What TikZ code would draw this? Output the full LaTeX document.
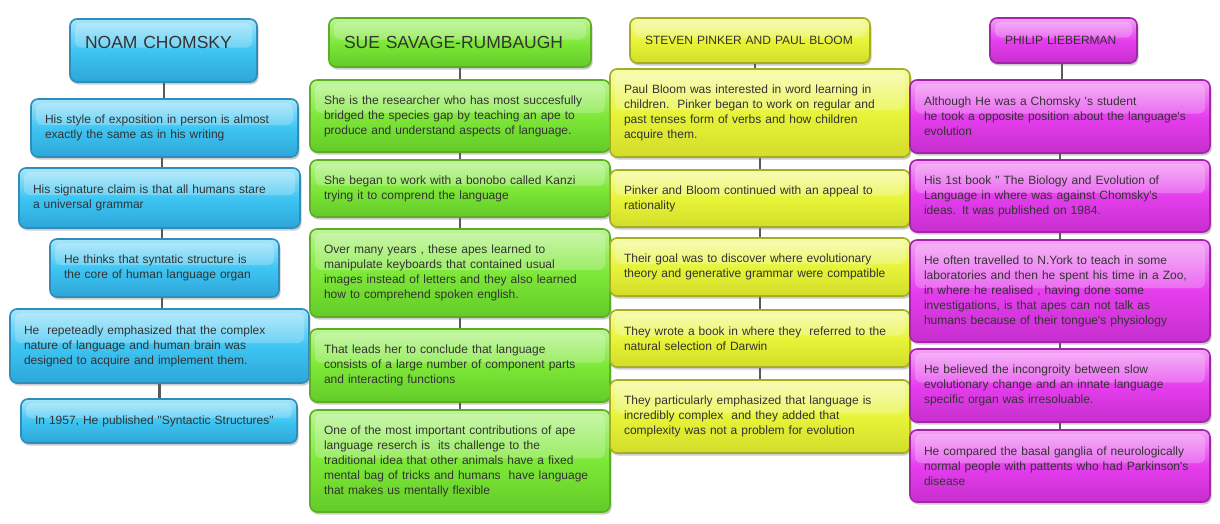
\documentclass[tikz,border=0pt]{standalone}
\usepackage{fontspec}
\setmainfont{Liberation Sans}[Ligatures=TeXOff]
\usetikzlibrary{shadows,calc}
\definecolor{txt}{HTML}{333333}
\definecolor{lnk}{HTML}{5A5A5A}
\definecolor{bluedraw}{HTML}{2E8DBB}
\definecolor{bluetop}{HTML}{A8E6FA}
\definecolor{bluemid}{HTML}{3EC5F3}
\definecolor{bluebot}{HTML}{2DA6D8}
\definecolor{greendraw}{HTML}{5DAE26}
\definecolor{greentop}{HTML}{BDF597}
\definecolor{greenmid}{HTML}{7EE838}
\definecolor{greenbot}{HTML}{63CB28}
\definecolor{yeldraw}{HTML}{A5AE22}
\definecolor{yeltop}{HTML}{F6FBA8}
\definecolor{yelmid}{HTML}{E8F438}
\definecolor{yelbot}{HTML}{D2DC2A}
\definecolor{magdraw}{HTML}{A326AA}
\definecolor{magtop}{HTML}{F3A2F6}
\definecolor{magmid}{HTML}{E63EEE}
\definecolor{magbot}{HTML}{C62ECE}
\tikzset{
  card/.style={rectangle, rounded corners=7pt, line width=1.6pt,
    inner xsep=14pt, inner ysep=0pt, align=left, text=txt,
    font=\fontsize{12}{15}\selectfont,
    drop shadow={shadow xshift=1.5pt, shadow yshift=-2.5pt, opacity=0.2, fill=black},
    path picture={\fill[white, opacity=0.22, rounded corners=6pt]
      ([shift={(5pt,-4pt)}]path picture bounding box.north west) rectangle
      ([shift={(-5pt,3pt)}]path picture bounding box.east);}},
  bluecard/.style={card, draw=bluedraw, top color=bluetop, bottom color=bluebot, middle color=bluemid},
  greencard/.style={card, draw=greendraw, top color=greentop, bottom color=greenbot, middle color=greenmid},
  yelcard/.style={card, draw=yeldraw, top color=yeltop, bottom color=yelbot, middle color=yelmid},
  magcard/.style={card, draw=magdraw, top color=magtop, bottom color=magbot, middle color=magmid},
  link/.style={draw=lnk, line width=2.5pt}
}
\begin{document}
\begin{tikzpicture}[x=1pt,y=-1pt]
\useasboundingbox[fill=white] (0,0) rectangle (1220,523);

% ---- Column 1: blue ----
\node[bluecard, inner xsep=15pt, text width=157pt, minimum height=63pt, text height=13pt, text depth=18pt,
  font=\fontsize{17.5}{20}\selectfont] (ct) at (163.5,50.5) {NOAM CHOMSKY};
\node[bluecard, text width=239pt, minimum height=58pt] (c1) at (164.5,128)
  {His style of exposition in person is almost\\exactly the same as in his writing};
\node[bluecard, text width=253pt, minimum height=60pt] (c2) at (159.5,198)
  {His signature claim is that all humans stare\\a universal grammar};
\node[bluecard, text width=201pt, minimum height=58pt] (c3) at (164.5,268)
  {He thinks that syntatic structure is\\the core of human language organ};
\node[bluecard, text width=271pt, minimum height=74pt] (c4) at (159.5,346)
  {He\ \ repeteadly emphasized that the complex\\nature of language and human brain was\\designed to acquire and implement them.};
\node[bluecard, text width=248pt, minimum height=44pt] (c5) at (159,421)
  {In 1957, He published "Syntactic Structures"};

% ---- Column 2: green ----
\node[greencard, inner xsep=15pt, text width=232pt, minimum height=49pt,
  font=\fontsize{17.5}{20}\selectfont] (gt) at (460,42.5) {SUE SAVAGE-RUMBAUGH};
\node[greencard, text width=272pt, minimum height=72pt] (g1) at (460,116)
  {She is the researcher who has most succesfully\\bridged the species gap by teaching an ape to\\produce and understand aspects of language.};
\node[greencard, text width=272pt, minimum height=57pt] (g2) at (460,188.5)
  {She began to work with a bonobo called Kanzi\\trying it to comprend the language};
\node[greencard, text width=272pt, minimum height=88pt] (g3) at (460,273)
  {Over many years , these apes learned to\\manipulate keyboards that contained usual\\images instead of letters and they also learned\\how to comprehend spoken english.};
\node[greencard, text width=272pt, minimum height=73pt] (g4) at (460,365.5)
  {That leads her to conclude that language\\consists of a large number of component parts\\and interacting functions};
\node[greencard, text width=272pt, minimum height=102pt] (g5) at (460,461)
  {One of the most important contributions of ape\\language reserch is\ \ its challenge to the\\traditional idea that other animals have a fixed\\mental bag of tricks and humans\ \ have language\\that makes us mentally flexible};

% ---- Column 3: yellow ----
\node[yelcard, inner xsep=15pt, text width=210pt, minimum height=45pt,
  font=\fontsize{12}{15}\selectfont] (yt) at (750,40.5) {STEVEN PINKER AND PAUL BLOOM};
\node[yelcard, text width=272pt, minimum height=88pt] (y1) at (760,113)
  {Paul Bloom was interested in word learning in\\children.\ \ Pinker began to work on regular and\\past tenses form of verbs and how children\\acquire them.};
\node[yelcard, text width=272pt, minimum height=57pt] (y2) at (760,198.5)
  {Pinker and Bloom continued with an appeal to\\rationality};
\node[yelcard, text width=272pt, minimum height=58pt] (y3) at (760,267)
  {Their goal was to discover where evolutionary\\theory and generative grammar were compatible};
\node[yelcard, text width=272pt, minimum height=57pt] (y4) at (760,338.5)
  {They wrote a book in where they\ \ referred to the\\natural selection of Darwin};
\node[yelcard, text width=272pt, minimum height=73pt] (y5) at (760,416.5)
  {They particularly emphasized that language is\\incredibly complex\ \ and they added that\\complexity was not a problem for evolution};

% ---- Column 4: magenta ----
\node[magcard, inner xsep=15pt, text width=117pt, minimum height=45pt,
  font=\fontsize{12}{15}\selectfont] (mt) at (1063.5,40.5) {PHILIP LIEBERMAN};
\node[magcard, text width=272pt, minimum height=73pt] (m1) at (1060,116.5)
  {Although He was a Chomsky 's student\\he took a opposite position about the language's\\evolution};
\node[magcard, text width=272pt, minimum height=72pt] (m2) at (1060,196)
  {His 1st book " The Biology and Evolution of\\Language in where was against Chomsky's\\ideas. It was published on 1984.};
\node[magcard, text width=272pt, minimum height=102pt] (m3) at (1060,291)
  {He often travelled to N.York to teach in some\\laboratories and then he spent his time in a Zoo,\\in where he realised , having done some\\investigations, is that apes can not talk as\\humans because of their tongue's physiology};
\node[magcard, text width=272pt, minimum height=73pt] (m4) at (1060,385.5)
  {He believed the incongroity between slow\\evolutionary change and an innate language\\specific organ was irresoluable.};
\node[magcard, text width=272pt, minimum height=72pt] (m5) at (1060,466)
  {He compared the basal ganglia of neurologically\\normal people with pattents who had Parkinson's\\disease};

% ---- connectors (vertical, at the midpoint of the two nodes) ----
\foreach \a/\b in {ct/c1,c1/c2,c2/c3,c3/c4,c4/c5,
                   gt/g1,g1/g2,g2/g3,g3/g4,g4/g5,
                   yt/y1,y1/y2,y2/y3,y3/y4,y4/y5,
                   mt/m1,m1/m2,m2/m3,m3/m4,m4/m5}{
  \coordinate (mid) at ($(\a.south)!0.5!(\b.north)$);
  \path[link] (mid |- \a.south) -- (mid |- \b.north);
}
\end{tikzpicture}
\end{document}
